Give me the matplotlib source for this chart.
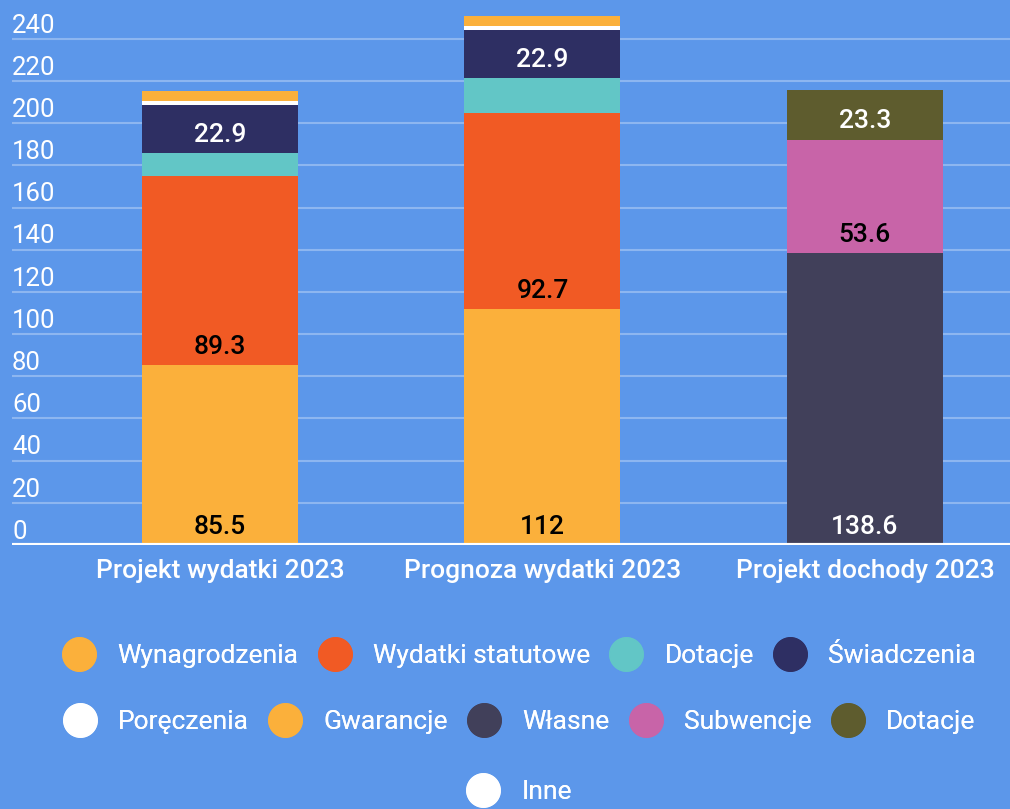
import numpy as np
import matplotlib
matplotlib.use("Agg")
import matplotlib.pyplot as plt
from matplotlib.lines import Line2D

plt.rcParams['font.family'] = ['Roboto', 'DejaVu Sans']

categories = ['Projekt wydatki 2023', 'Prognoza wydatki 2023', 'Projekt dochody 2023']
series_names = ['Wynagrodzenia', 'Wydatki statutowe', 'Dotacje', 'Świadczenia', 'Poręczenia',
                'Gwarancje', 'Własne', 'Subwencje', 'Dotacje', 'Inne']
wynagrodzenia = [85.5, 112, 0]
wydatki_statutowe = [89.3, 92.7, 0]
dotacje = [11.0, 16.5, 0]
swiadczenia = [22.9, 22.9, 0]
poreczenia = [2.0, 2.0, 0]
gwarancje = [4.5, 4.5, 0]
wlasne = [0, 0, 138.6]
subwencje = [0, 0, 53.6]
dotacje_dochody = [0, 0, 23.3]
inne = [0, 0, 0]
yticks = list(range(0, 241, 20))

series = [wynagrodzenia, wydatki_statutowe, dotacje, swiadczenia, poreczenia,
          gwarancje, wlasne, subwencje, dotacje_dochody, inne]
colors = ['#FBB03B', '#F15A24', '#62C6C6', '#2E2F63', '#FFFFFF',
          '#FBB03B', '#41405A', '#C864A8', '#5E5C2E', '#FFFFFF']
label_colors = ['black', 'black', 'white', 'white', 'black',
                'black', 'white', 'black', 'white', 'black']

bg = '#5C97EA'
fig = plt.figure(figsize=(10.1, 8.09), dpi=100, facecolor=bg)
ax = fig.add_axes([0.0119, 0.3263, 0.9881, 0.6675])
ax.set_facecolor(bg)

x = np.arange(len(categories))
bottom = np.zeros(len(categories))
for vals, col, lc in zip(series, colors, label_colors):
    vals = np.array(vals, dtype=float)
    ax.bar(x, vals, width=0.484, bottom=bottom, color=col, zorder=3)
    for xi, v, b in zip(x, vals, bottom):
        if v >= 20:
            ax.text(xi, b + 8.6, f'{v:g}', ha='center', va='center', color=lc,
                    fontsize=19, fontweight='medium', zorder=4)
    bottom += vals

ax.set_xlim(-0.645, 2.45)
ax.set_ylim(0, 256)

for t in yticks:
    if t == 0:
        ax.axhline(0, color='white', lw=3, zorder=5)
    else:
        ax.axhline(t, color='#8DB6F0', lw=1.5, zorder=1)
    ax.text(0.0, t + 0.6, str(t), transform=ax.get_yaxis_transform(), ha='left',
            va='bottom', color='white', fontsize=18.5)

ax.set_yticks([])
ax.set_xticks(x)
ax.set_xticklabels(categories, color='white', fontsize=19, fontweight='medium')
ax.tick_params(axis='x', length=0, pad=10)
for s in ax.spines.values():
    s.set_visible(False)

handles = [Line2D([], [], marker='o', linestyle='none', markersize=24,
                  markerfacecolor=c, markeredgecolor=c) for c in colors]
rows = [(0, 4, 0.189), (4, 9, 0.1075), (9, 10, 0.021)]
for i0, i1, yy in rows:
    leg = fig.legend(handles[i0:i1], series_names[i0:i1], loc='center',
                     bbox_to_anchor=(0.514, yy), ncol=i1 - i0, frameon=False,
                     prop={'size': 19}, labelcolor='white',
                     handlelength=1.3, handletextpad=0.8, columnspacing=0.72,
                     borderaxespad=0)
    fig.add_artist(leg)

fig.savefig('out.png', dpi=100, facecolor=bg)
